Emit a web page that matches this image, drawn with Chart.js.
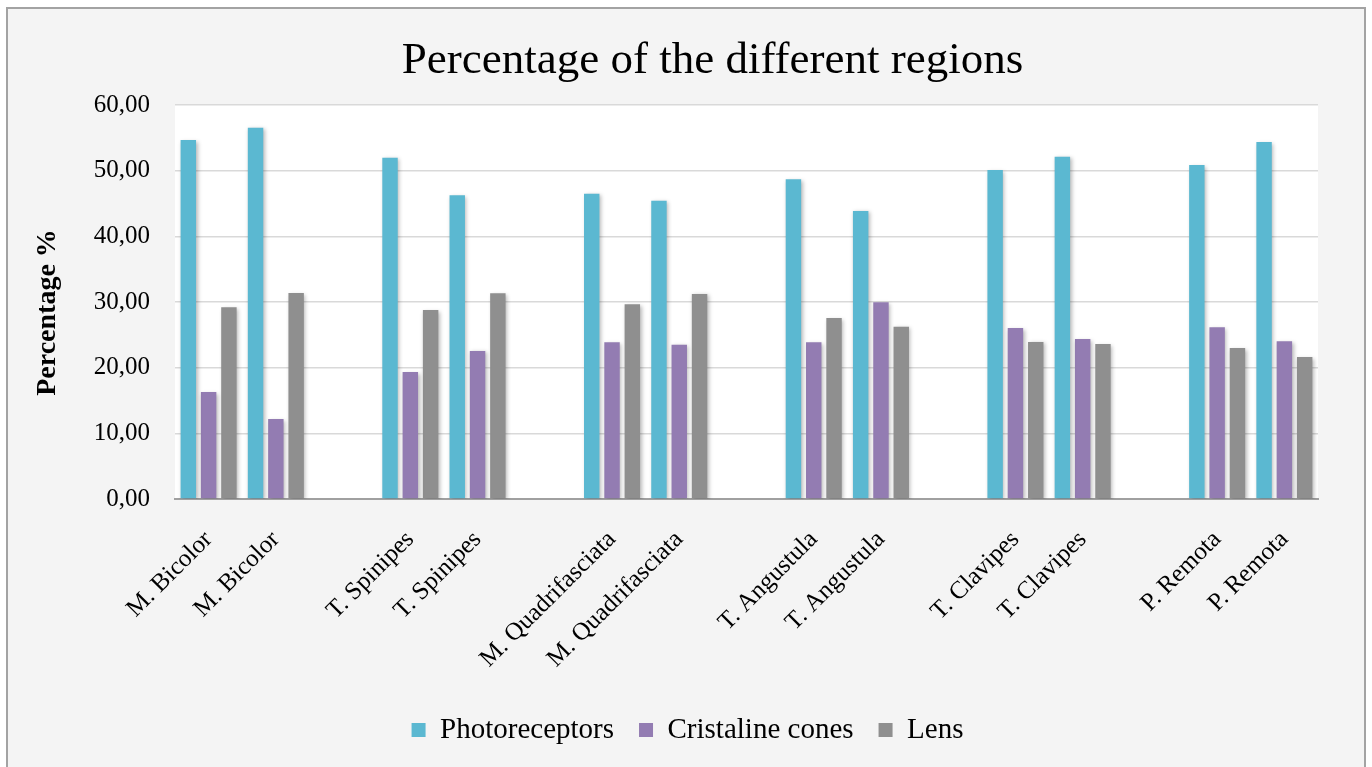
<!DOCTYPE html>
<html>
<head>
<meta charset="utf-8">
<title>Percentage of the different regions</title>
<script src="https://cdn.jsdelivr.net/npm/chart.js@4.4.1/dist/chart.umd.min.js"></script>
<style>
  html, body { margin: 0; padding: 0; background: #ffffff; }
  #wrap { width: 1372px; height: 767px; position: relative; }
</style>
</head>
<body>
<div id="wrap"><canvas id="chart"></canvas></div>
<script>
// Species (each measured twice); blank entries separate the species groups
const categories = [
  'M. Bicolor', 'M. Bicolor', '',
  'T. Spinipes', 'T. Spinipes', '',
  'M. Quadrifasciata', 'M. Quadrifasciata', '',
  'T. Angustula', 'T. Angustula', '',
  'T. Clavipes', 'T. Clavipes', '',
  'P. Remota', 'P. Remota'
];

const photoreceptors = [54.67, 56.54, null, 51.97, 46.24, null, 46.49, 45.43, null, 48.68, 43.86, null, 50.10, 52.13, null, 50.86, 54.36];
const cristalineCones = [16.29, 12.18, null, 19.34, 22.54, null, 23.86, 23.50, null, 23.86, 29.95, null, 26.04, 24.36, null, 26.14, 24.01];
const lens = [29.19, 31.37, null, 28.78, 31.32, null, 29.64, 31.22, null, 27.56, 26.24, null, 23.91, 23.60, null, 22.99, 21.62];

const seriesNames = ['Photoreceptors', 'Cristaline cones', 'Lens'];

const SERIF = "'Liberation Serif', 'Times New Roman', serif";

// Grey framed panel with a white plot area behind the bars
const panelPlugin = {
  id: 'panel',
  afterLayout(chart) {
    // nudge the title block to the right of the plot centre
    if (chart.titleBlock) {
      chart.titleBlock.left += 25;
      chart.titleBlock.right += 25;
    }
  },
  beforeDraw(chart) {
    const { ctx, width, height, chartArea } = chart;
    ctx.save();
    ctx.fillStyle = '#ffffff';
    ctx.fillRect(0, 0, width, height);
    ctx.fillStyle = '#f4f4f4';
    ctx.fillRect(7, 8, 1358, height);
    ctx.strokeStyle = '#a3a3a3';
    ctx.lineWidth = 2;
    ctx.strokeRect(7, 8, 1358, height + 10);
    ctx.fillStyle = '#ffffff';
    ctx.fillRect(chartArea.left, chartArea.top, chartArea.right - chartArea.left, chartArea.bottom - chartArea.top);
    ctx.restore();
  }
};

// Soft drop shadow under the bars
const barShadowPlugin = {
  id: 'barShadow',
  beforeDatasetsDraw(chart) {
    const ctx = chart.ctx;
    ctx.save();
    ctx.shadowColor = 'rgba(0,0,0,0.28)';
    ctx.shadowBlur = 4;
    ctx.shadowOffsetX = 1.5;
    ctx.shadowOffsetY = 1.5;
  },
  afterDatasetsDraw(chart) {
    chart.ctx.restore();
  }
};

const colors = ['#5bb8d1', '#937cb2', '#8f8f8f'];

new Chart(document.getElementById('chart'), {
  type: 'bar',
  data: {
    labels: categories,
    datasets: [
      { label: seriesNames[0], data: photoreceptors, backgroundColor: colors[0] },
      { label: seriesNames[1], data: cristalineCones, backgroundColor: colors[1] },
      { label: seriesNames[2], data: lens, backgroundColor: colors[2] }
    ]
  },
  plugins: [panelPlugin, barShadowPlugin],
  options: {
    responsive: true,
    maintainAspectRatio: false,
    animation: false,
    devicePixelRatio: 1,
    layout: { padding: { left: 57, right: 54, top: 0, bottom: 12.5 } },
    datasets: {
      bar: { categoryPercentage: 0.906, barPercentage: 0.76 }
    },
    plugins: {
      title: {
        display: true,
        text: 'Percentage of the different regions',
        color: '#000',
        font: { family: SERIF, size: 45, weight: 'normal' },
        padding: { top: 34, bottom: 17 }
      },
      legend: {
        position: 'bottom',
        labels: {
          color: '#000',
          font: { family: SERIF, size: 29 },
          boxWidth: 14,
          boxHeight: 14,
          padding: 25
        }
      },
      tooltip: { enabled: false }
    },
    scales: {
      x: {
        grid: { display: false, drawTicks: false },
        border: { display: true, color: '#a0a0a0', width: 2 },
        ticks: {
          color: '#000',
          font: { family: SERIF, size: 25 },
          minRotation: 45,
          maxRotation: 45,
          autoSkip: false,
          padding: 26
        },
        afterFit(scale) { scale.height = 191.5; }
      },
      y: {
        min: 0,
        max: 60,
        grid: { color: '#d9d9d9', lineWidth: 1.5, drawTicks: false },
        border: { display: false },
        ticks: {
          stepSize: 10,
          color: '#000',
          font: { family: SERIF, size: 25 },
          padding: 25,
          callback: (v) => v.toFixed(2).replace('.', ',')
        },
        title: {
          display: true,
          text: 'Percentage %   ',
          color: '#000',
          font: { family: SERIF, size: 28, weight: 'bold' },
          padding: { top: -26, bottom: 0 }
        },
        afterFit(scale) { scale.width = 118; }
      }
    }
  }
});
</script>
</body>
</html>
